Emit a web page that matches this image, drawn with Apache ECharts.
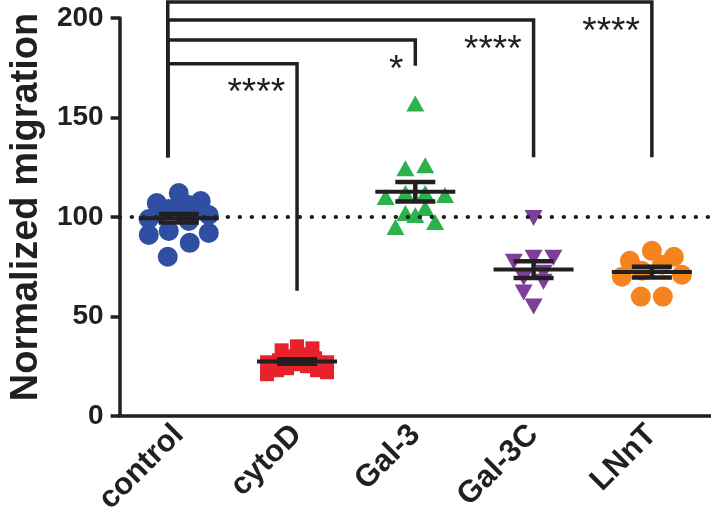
<!DOCTYPE html>
<html><head><meta charset="utf-8">
<script src="https://cdn.jsdelivr.net/npm/echarts@6/dist/echarts.min.js"></script>
<style>html,body{margin:0;padding:0;background:#fff}#c{width:711px;height:524px}</style>
</head><body><div id="c"></div>
<script>
// ---- data ----
const categories = ['control', 'cytoD', 'Gal-3', 'Gal-3C', 'LNnT'];
const controlValues = [112, 108, 106, 104, 107, 106, 104, 102, 101, 99, 98, 93, 92, 91, 87, 80];
const cytoDValues = [35, 34, 33, 31, 30, 29, 28, 27, 27, 26, 25, 24, 23, 23, 22, 21];
const gal3Values = [157, 126, 124.5, 112, 111, 110, 112, 104.5, 101, 102, 97.5, 95];
const gal3CValues = [99.5, 79.5, 79.5, 77.5, 72, 69.5, 67.5, 62, 55];
const lnntValues = [83, 80, 78, 76, 73, 71, 70, 60, 60];
const yTicks = [0, 50, 100, 150, 200];
const referenceValue = 100;
// comparisons vs control: target index, bracket level, target leg end, significance
const compTargets = [1, 2, 3, 4];
const compLevels = [177, 189, 199, 208];
const compLegEnds = [63, 176, 130, 130];
const compLabels = ['****', '*', '****', '****'];
const controlLegEnd = 130;

// ---- styles / layout ----
const INK = '#231f20';
const FONT = "'Liberation Sans', Arial, sans-serif";
const GRID = {left: 108, right: 0, top: 18, bottom: 108};
const H = 524;
const yMin = 0, yMax = 200;
const pxPerUnit = (H - GRID.top - GRID.bottom) / (yMax - yMin);
const groups = [
  {values: controlValues, color: '#2f4fa2', symbol: 'circle', w: 20, h: 20, rot: 0},
  {values: cytoDValues, color: '#e8222b', symbol: 'rect', w: 14, h: 14, rot: 0},
  {values: gal3Values, color: '#2bb24c', symbol: 'triangle', w: 18, h: 16, rot: 0},
  {values: gal3CValues, color: '#7d3f98', symbol: 'triangle', w: 18, h: 16, rot: 180},
  {values: lnntValues, color: '#f5841f', symbol: 'circle', w: 20, h: 20, rot: 0}
];

// Prism-like row layout: group close values into rows, spread each row horizontally
function rowLayout(values, w, h, maxSpan) {
  const binU = (h * 0.75) / pxPerUnit;
  const idx = values.map((v, i) => i).sort((a, b) => values[a] - values[b]);
  const rows = [];
  let cur = null;
  idx.forEach(i => {
    if (!cur || values[i] - values[cur[0]] >= binU) { cur = [i]; rows.push(cur); }
    else cur.push(i);
  });
  const offs = new Array(values.length);
  rows.forEach(r => {
    const n = r.length;
    const sp = n > 1 ? Math.min(w * 1.1, maxSpan / (n - 1)) : 0;
    const slots = [];
    for (let k = 0; k < n; k++) slots.push((k - (n - 1) / 2) * sp);
    const order = [];
    let lo = 0, hi = n - 1, t = 0;
    while (lo <= hi) { order.push(t % 2 === 0 ? lo++ : hi--); t++; }
    r.forEach((pi, k) => { offs[pi] = slots[order[k]]; });
  });
  return offs;
}
function mean(a) { return a.reduce((s, v) => s + v, 0) / a.length; }
function sem(a) {
  const m = mean(a);
  const v = a.reduce((s, x) => s + (x - m) * (x - m), 0) / (a.length - 1);
  return Math.sqrt(v) / Math.sqrt(a.length);
}

const series = [];
groups.forEach((g, gi) => {
  const offs = rowLayout(g.values, g.w, g.h, 60);
  const s = {
    type: 'scatter', name: categories[gi], z: 2,
    symbol: g.symbol, symbolSize: [g.w, g.h], symbolRotate: g.rot,
    itemStyle: {color: g.color, opacity: 1},
    data: g.values.map((v, i) => ({value: [gi, v], symbolOffset: [offs[i], 0]}))
  };
  if (gi === 0) {
    s.markLine = {
      silent: true, symbol: 'none', label: {show: false},
      lineStyle: {color: INK, width: 4, type: [0.5, 11.5], cap: 'round'},
      data: [{yAxis: referenceValue}]
    };
  }
  series.push(s);
});

// mean ± SEM
series.push({
  type: 'custom', z: 5, silent: true,
  data: groups.map((g, gi) => [gi, mean(g.values), sem(g.values)]),
  renderItem: function (params, api) {
    const c = api.value(0), m = api.value(1), s = api.value(2);
    const pm = api.coord([c, m]), pt = api.coord([c, m + s]), pb = api.coord([c, m - s]);
    const st = {stroke: INK, lineWidth: 4.5};
    return {type: 'group', children: [
      {type: 'line', shape: {x1: pm[0] - 40, y1: pm[1], x2: pm[0] + 40, y2: pm[1]}, style: {stroke: INK, lineWidth: 4}},
      {type: 'line', shape: {x1: pt[0] - 20, y1: pt[1], x2: pt[0] + 20, y2: pt[1]}, style: st},
      {type: 'line', shape: {x1: pb[0] - 20, y1: pb[1], x2: pb[0] + 20, y2: pb[1]}, style: st},
      {type: 'line', shape: {x1: pm[0], y1: pt[1], x2: pm[0], y2: pb[1]}, style: st}
    ]};
  }
});

// significance brackets
series.push({
  type: 'custom', z: 6, silent: true, clip: false,
  data: compTargets.map((t, i) => [t, compLevels[i], compLegEnds[i], i]),
  renderItem: function (params, api) {
    const t = api.value(0), lv = api.value(1), le = api.value(2), idx = api.value(3);
    const c0 = api.coord([0, lv]);
    const cLeg = api.coord([0, controlLegEnd]);
    const tTop = api.coord([t, lv]);
    const tBot = api.coord([t, le]);
    const cx = c0[0] - 11;
    return {type: 'group', children: [
      {type: 'polyline', shape: {points: [[cx, cLeg[1]], [cx, c0[1]], [tTop[0], tTop[1]], [tBot[0], tBot[1]]]},
        style: {stroke: INK, lineWidth: 3.5, fill: null, lineJoin: 'miter'}},
      {type: 'text', x: tTop[0] - 12, y: tTop[1] + 12,
        style: {text: compLabels[idx], textAlign: 'right', textVerticalAlign: 'top', fill: INK,
          font: 'normal 37px ' + FONT}}
    ]};
  }
});

const chart = echarts.init(document.getElementById('c'), null, {renderer: 'canvas'});
chart.setOption({
  animation: false,
  backgroundColor: '#fff',
  grid: {left: GRID.left, right: GRID.right, top: GRID.top, bottom: GRID.bottom, containLabel: false},
  xAxis: {
    type: 'category', data: categories, boundaryGap: true,
    axisLine: {lineStyle: {color: INK, width: 3.5}},
    axisTick: {alignWithLabel: true, length: 11, lineStyle: {color: INK, width: 3.5}},
    axisLabel: {rotate: 45, margin: 14, color: INK, fontWeight: 'bold', fontSize: 31, fontFamily: FONT, interval: 0},
    splitLine: {show: false}
  },
  yAxis: {
    type: 'value', min: yMin, max: yMax, interval: 50,
    name: 'Normalized migration', nameLocation: 'middle', nameGap: 68, nameRotate: 90,
    nameTextStyle: {color: INK, fontWeight: 'bold', fontSize: 38, fontFamily: FONT, padding: [0, 0, 0, 20]},
    axisLine: {show: true, lineStyle: {color: INK, width: 3.5}},
    axisTick: {show: true, length: 9, lineStyle: {color: INK, width: 3.5}},
    axisLabel: {margin: 16, color: INK, fontWeight: 'bold', fontSize: 28, fontFamily: FONT,
      customValues: yTicks},
    splitLine: {show: false}
  },
  series: series
});
</script></body></html>
